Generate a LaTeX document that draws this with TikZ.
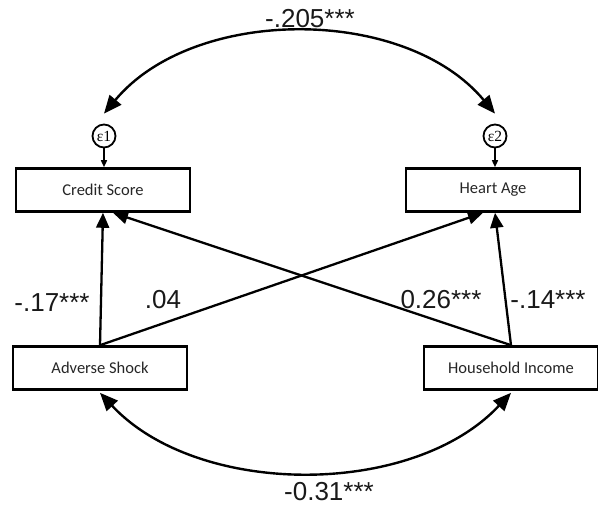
\documentclass[tikz,border=0pt]{standalone}
\usepackage{fontspec}
\setmainfont{Liberation Sans}
\newfontfamily\boxfont{Carlito}
\newfontfamily\errfont{Liberation Serif}
\usetikzlibrary{arrows.meta}

\begin{document}
\begin{tikzpicture}[
                x=1pt, y=1pt,
                obs/.style={rectangle, draw, line width=2.6pt, minimum width=174pt, minimum height=43pt,
                    font=\boxfont\fontsize{16.5}{18}\selectfont, text=black!85},
                err/.style={circle, draw, line width=1.8pt, minimum size=23pt, inner sep=0pt,
                    font=\errfont\fontsize{15.5}{17}\selectfont},
                coef/.style={font=\fontsize{26}{28}\selectfont, text=black!90},
                effect/.style={line width=2.3pt, -{Triangle[length=15pt,width=13pt]}},
                small/.style={line width=1.5pt, -{Triangle[length=7pt,width=6pt]}},
                cov/.style={line width=2.4pt, {Triangle[length=18pt,width=15pt]}-{Triangle[length=18pt,width=15pt]}}
                ]
                \useasboundingbox (0,0) rectangle (598,512);
                % Variables
                \node[obs] (cs) at (103,322) {Credit Score};
                \node[obs] (ha) at (493,322) {Heart Age};
                \node[obs] (as) at (100,144) {Adverse Shock};
                \node[obs] (hi) at (511,144) {Household Income};
                \node[err] (e1) at (104,376) {ε1};
                \node[err] (e2) at (495,376) {ε2};
                % Paths
                \draw[small] (e1) -- (e1 |- cs.north);
                \draw[small] (e2) -- (e2 |- ha.north);
                \draw[effect] (as.north) -- (cs.south);
                \draw[effect] (as.north) -- ([xshift=-10pt]ha.south);
                \draw[effect] (hi.north) -- ([xshift=2pt]ha.south);
                \draw[effect] (hi.north) -- ([xshift=10pt]cs.south);
                % Covariances
                \draw[cov] ([yshift=10pt]e1.north) .. controls +(90,108) and +(-90,108) .. ([yshift=10pt]e2.north);
                \draw[cov] ([yshift=-2pt]as.south) .. controls +(98,-105) and +(-98,-105) .. ([yshift=-2pt]hi.south);
                % Coefficients
                \node[coef] (k1) at (310,493) {-.205***};
                \node[coef] (k2) at (52,209) {-.17***};
                \node[coef] (k3) at (163,212) {.04};
                \node[coef] (k4) at (441,212) {0.26***};
                \node[coef] (k5) at (548,212) {-.14***};
                \node[coef] (k6) at (329,20) {-0.31***};
\end{tikzpicture}
\end{document}
